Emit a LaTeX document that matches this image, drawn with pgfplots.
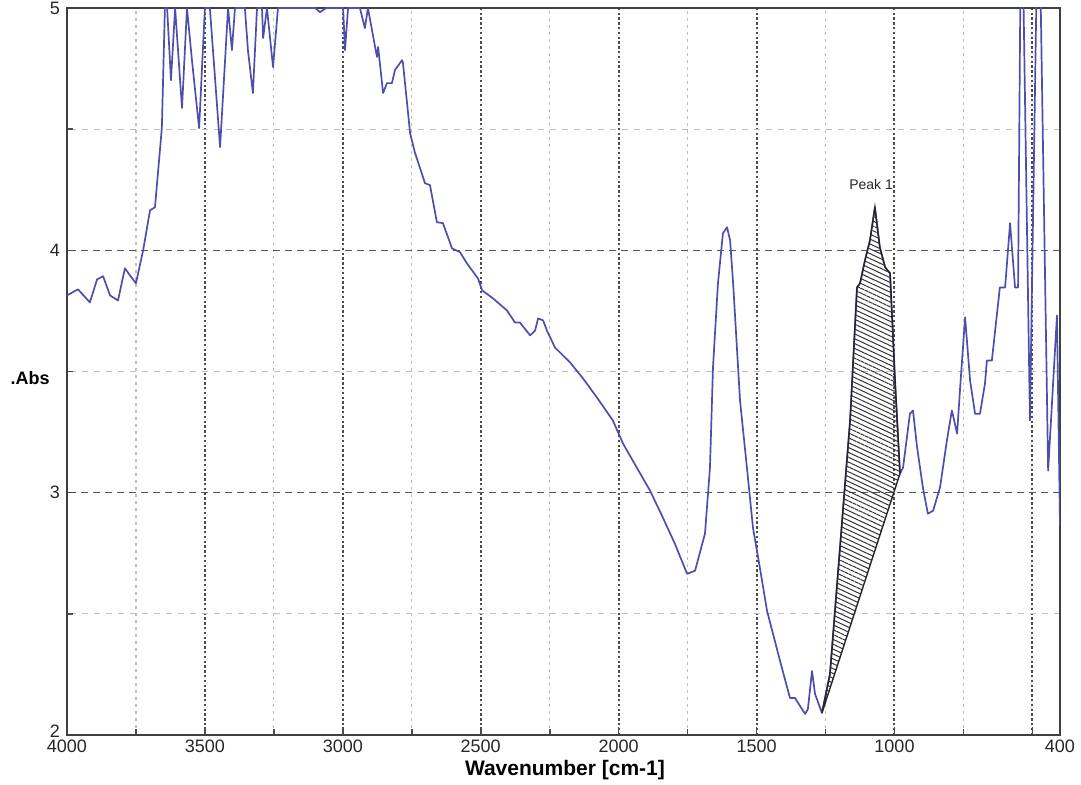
\documentclass[border=0pt]{standalone}
\usepackage{fontspec}
\setmainfont{Liberation Sans}
\usepackage{pgfplots}
\pgfplotsset{compat=1.18}
\usetikzlibrary{patterns.meta}
\definecolor{specblue}{RGB}{78,78,172}
\begin{document}
\begin{tikzpicture}
\begin{axis}[name=ax, scale only axis, width=496.5pt, height=363.5pt,
  x dir=reverse, xmin=400, xmax=4000, ymin=2, ymax=5,
  xtick={400,500,1000,1500,2000,2500,3000,3500,4000},
  xticklabels={400,,1000,1500,2000,2500,3000,3500,4000},
  minor xtick={750,1250,1750,2250,2750,3250,3750},
  ytick={2,3,4,5}, minor ytick={2.5,3.5,4.5},
  yticklabels={\raisebox{4pt}{2},3,4,5},
  grid=both,
  major x grid style={black!70, dash pattern=on 1.2pt off 1.2pt, line width=1pt},
  minor x grid style={black!25, dash pattern=on 1.5pt off 2pt, line width=0.6pt},
  major y grid style={black!65, dash pattern=on 3.5pt off 2.5pt, line width=0.8pt},
  minor y grid style={black!25, dash pattern=on 3pt off 3pt, line width=0.6pt},
  axis line style={black!75, line width=1pt},
  tick pos=left, tick align=inside, major tick length=4pt, minor tick length=3pt,
  tick style={black!70, line width=0.8pt},
  tick label style={font=\fontsize{9}{10}\selectfont, text=black!85},
  xticklabel style={yshift=1pt},
  /pgf/number format/assume math mode=true,
  xlabel={Wavenumber [cm-1]},
  xlabel style={at={(axis description cs:0.5015,-0.048)}, anchor=center, font=\fontsize{10.5}{12}\selectfont\bfseries},
  ylabel={.Abs},
  ylabel style={rotate=-90, at={(axis description cs:-0.037,0.491)}, anchor=center, font=\fontsize{9}{10}\selectfont\bfseries},
]
\addplot[specblue, line width=0.85pt, line join=round] coordinates {
(4000,3.814) (3960,3.839) (3917,3.785) (3891,3.880) (3869,3.893) (3844,3.814) (3815,3.793) (3790,3.926) (3772,3.897) (3750,3.864) (3724,4.0) (3699,4.165) (3681,4.178) (3663,4.413) (3656,4.508) (3645,5.0) (3637,5.0) (3623,4.702) (3608,5.0) (3583,4.587) (3565,5.0) (3547,4.785) (3521,4.504) (3500,5.0) (3482,5.0) (3445,4.426) (3416,5.0) (3402,4.826) (3391,5.0) (3355,5.0) (3344,4.826) (3326,4.649) (3311,5.0) (3293,5.0) (3289,4.876) (3275,5.0) (3253,4.756) (3235,5.0) (3100,5.0) (3083,4.983) (3060,5.0) (2999,5.0) (2992,4.826) (2981,5.0) (2938,5.0) (2920,4.917) (2909,5.0) (2883,4.839) (2876,4.798) (2872,4.839) (2854,4.649) (2840,4.690) (2822,4.690) (2811,4.744) (2785,4.785) (2782,4.773) (2756,4.483) (2738,4.401) (2702,4.277) (2684,4.269) (2659,4.116) (2637,4.112) (2604,4.008) (2575,3.992) (2550,3.946) (2510,3.884) (2495,3.835) (2456,3.802) (2405,3.752) (2376,3.702) (2358,3.702) (2321,3.649) (2303,3.669) (2292,3.719) (2274,3.711) (2260,3.669) (2231,3.599) (2176,3.537) (2129,3.471) (2079,3.393) (2021,3.298) (1984,3.202) (1934,3.103) (1886,3.008) (1843,2.905) (1796,2.789) (1752,2.665) (1723,2.678) (1687,2.831) (1669,3.103) (1658,3.517) (1640,3.864) (1622,4.070) (1607,4.095) (1596,4.041) (1585,3.864) (1560,3.380) (1535,3.103) (1513,2.855) (1488,2.690) (1462,2.512) (1415,2.306) (1379,2.153) (1361,2.153) (1324,2.087) (1314,2.107) (1299,2.264) (1288,2.169) (1263,2.091) (1234,2.252) (1187,2.926) (1161,3.298) (1136,3.847) (1125,3.864) (1107,3.959) (1089,4.041) (1071,4.178) (1053,4.012) (1034,3.930) (1016,3.905) (998,3.463) (980,3.079) (969,3.103) (944,3.326) (933,3.339) (918,3.186) (897,3.021) (879,2.913) (860,2.926) (835,3.021) (810,3.215) (792,3.339) (773,3.244) (762,3.434) (744,3.723) (726,3.463) (708,3.326) (690,3.326) (672,3.450) (665,3.545) (647,3.545) (618,3.847) (599,3.847) (581,4.112) (563,3.847) (552,3.847) (540,5.6) (509,3.298) (478,5.6) (443,3.091) (411,3.731) (400,2.864)
};
\addplot[draw=black!85, line width=0.7pt, pattern={Lines[angle=-25, distance=2.2pt, line width=0.5pt]}, pattern color=black!80] coordinates {
(1263,2.091) (1234,2.252) (1187,2.926) (1161,3.298) (1136,3.847) (1125,3.864) (1107,3.959) (1089,4.041) (1071,4.178) (1053,4.012) (1034,3.930) (1016,3.905) (998,3.463) (980,3.079) (1263,2.091)
} --cycle;
\node[font=\fontsize{7}{8}\selectfont, text=black!85] at (axis cs:1085,4.27) {Peak 1};
\end{axis}
\pgfresetboundingbox
\path[use as bounding box] ([shift={(-33.5pt,-25pt)}]ax.south west) rectangle ([shift={(10.5pt,4pt)}]ax.north east);
\end{tikzpicture}
\end{document}
